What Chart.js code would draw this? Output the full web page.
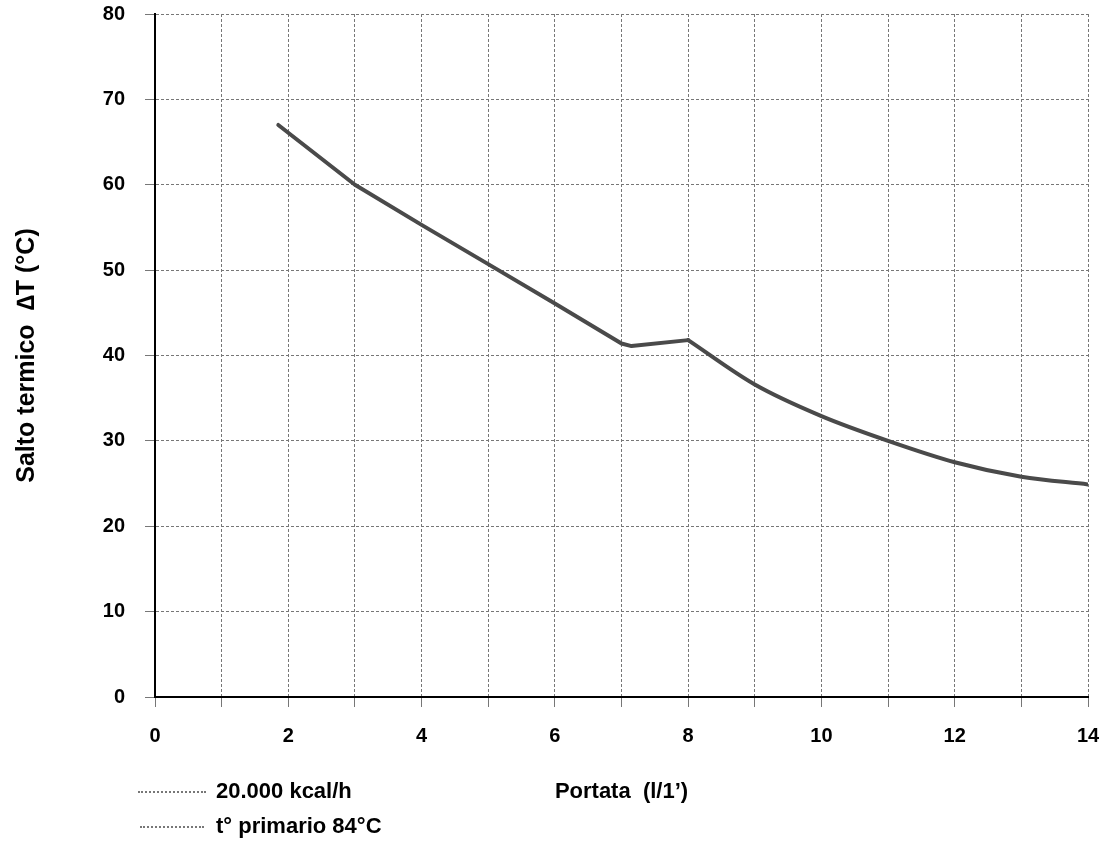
<!DOCTYPE html>
<html>
<head>
<meta charset="utf-8">
<script src="https://cdn.jsdelivr.net/npm/chart.js@4/dist/chart.umd.min.js"></script>
<style>
  html, body { margin: 0; padding: 0; background: #fff; }
  #wrap { position: relative; width: 1106px; height: 843px; }
  canvas { position: absolute; left: 0; top: 0; }
  .leg { position: absolute; font-family: "Liberation Sans", Arial, sans-serif; font-weight: bold; font-size: 22px; color: #000; white-space: nowrap; line-height: 26px; }
  .sample { position: absolute; height: 0; border-top: 2px dotted #777; }
</style>
</head>
<body>
<div id="wrap">
  <canvas id="c" width="1106" height="843"></canvas>
  <div class="sample" style="left:138px; top:791px; width:68px;"></div>
  <div class="leg" id="leg1" style="left:216px; top:778px;"></div>
  <div class="sample" style="left:140px; top:826px; width:64px;"></div>
  <div class="leg" id="leg2" style="left:216px; top:813px;"></div>
</div>
<script>
// ---- data ----
const flowX   = [1.85, 3, 4, 5, 6, 7, 7.15, 8, 9, 10, 11, 12, 13, 14];
const deltaT  = [67, 60, 55.3, 50.7, 46.1, 41.4, 41.1, 41.8, 36.6, 32.9, 30.0, 27.5, 25.8, 24.9];
const kinkIndex = 7; // the curve has a sharp peak at x = 8, smooth afterwards
const xTickLabels = ['0', '2', '4', '6', '8', '10', '12', '14'];
const yTickLabels = ['0', '10', '20', '30', '40', '50', '60', '70', '80'];
const legendLabels = ['20.000 kcal/h', 't° primario 84°C'];
const xTitle = 'Portata  (l/1\u2019)';
const yTitle = 'Salto termico  \u2206T (°C)';

document.getElementById('leg1').textContent = legendLabels[0];
document.getElementById('leg2').textContent = legendLabels[1];

const FONT = '"Liberation Sans", Arial, sans-serif';
const points = flowX.map((x, i) => ({ x: x, y: deltaT[i] }));
const lineStyle = { borderColor: '#4a4a4a', borderWidth: 4, pointRadius: 0, fill: false, borderJoinStyle: 'round', borderCapStyle: 'round' };

new Chart(document.getElementById('c'), {
  type: 'line',
  data: {
    datasets: [
      Object.assign({ label: legendLabels[0], data: points.slice(0, kinkIndex + 1), tension: 0 }, lineStyle),
      Object.assign({ label: legendLabels[0] + ' ', data: points.slice(kinkIndex), cubicInterpolationMode: 'monotone' }, lineStyle)
    ]
  },
  options: {
    responsive: false,
    animation: false,
    layout: { padding: { left: 0, right: 18, top: 14, bottom: 0 } },
    plugins: { legend: { display: false }, tooltip: { enabled: false } },
    scales: {
      x: {
        type: 'linear',
        min: 0, max: 14,
        afterFit: s => { s.height = 146; s.paddingLeft = 0; s.paddingRight = 0; },
        ticks: {
          stepSize: 1,
          autoSkip: false,
          maxRotation: 0,
          padding: 17,
          color: '#000',
          font: { family: FONT, weight: 'bold', size: 20 },
          callback: v => (xTickLabels.includes(String(v)) ? String(v) : '')
        },
        grid: { color: '#777', lineWidth: 1, tickLength: 10, drawTicks: true },
        border: { display: true, color: '#000', width: 2, dash: [3, 2] },
        title: {
          display: true, text: xTitle, color: '#000',
          font: { family: FONT, weight: 'bold', size: 22 },
          padding: { top: 0, bottom: 38 }
        }
      },
      y: {
        type: 'linear',
        min: 0, max: 80,
        afterFit: s => { s.width = 155; s.paddingTop = 0; s.paddingBottom = 0; },
        ticks: {
          stepSize: 10,
          padding: 20,
          color: '#000',
          font: { family: FONT, weight: 'bold', size: 20 },
          callback: v => (yTickLabels.includes(String(v)) ? String(v) : '')
        },
        grid: { color: '#777', lineWidth: 1, tickLength: 10, drawTicks: true },
        border: { display: true, color: '#000', width: 2, dash: [3, 2] },
        title: {
          display: true, text: yTitle, color: '#000',
          font: { family: FONT, weight: 'bold', size: 25 },
          padding: { top: 12, bottom: 0 }
        }
      }
    }
  }
});
</script>
</body>
</html>
